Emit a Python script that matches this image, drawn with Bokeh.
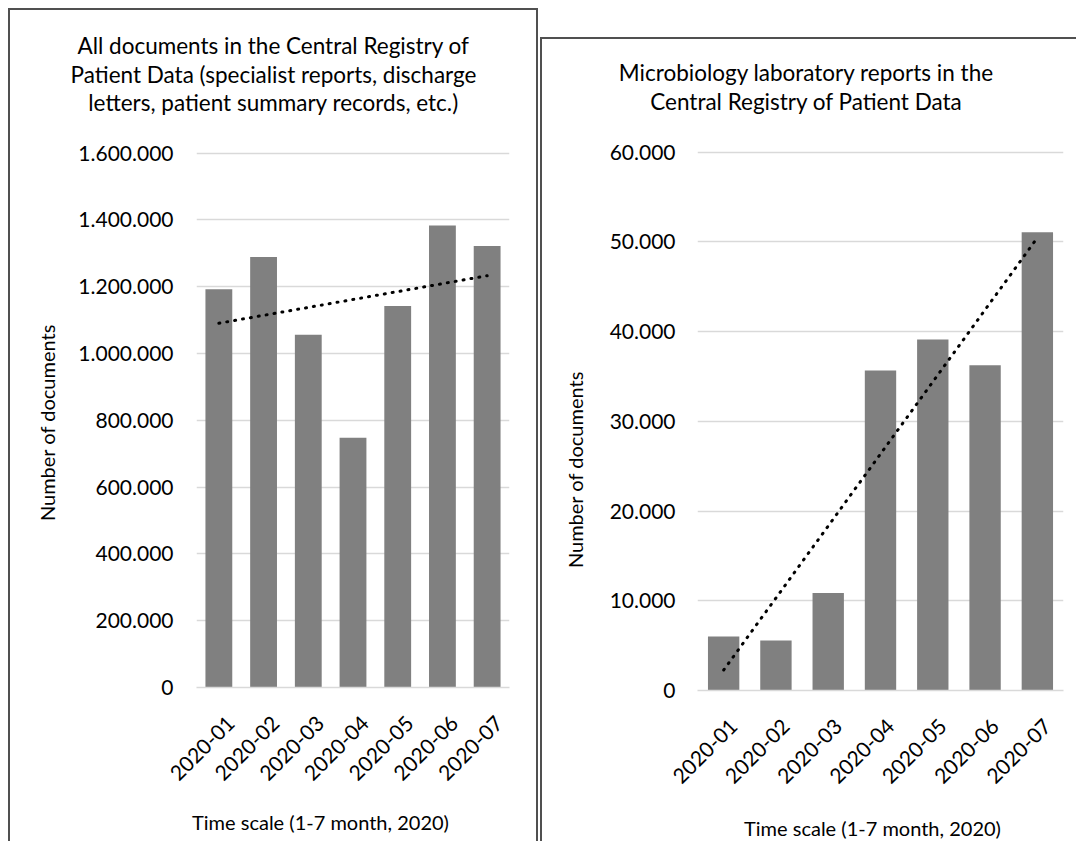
import math
import numpy as np
from bokeh.plotting import figure
from bokeh.models import Label, FixedTicker, Range1d, Spacer, LinearAxis
from bokeh.layouts import row, column
from bokeh.embed import file_html
from bokeh.resources import INLINE

# ---------------- data ----------------
months = ["2020-01", "2020-02", "2020-03", "2020-04", "2020-05", "2020-06", "2020-07"]
all_documents = [1192000, 1289000, 1056000, 748000, 1142000, 1383000, 1322000]
microbiology_reports = [6030, 5560, 10860, 35670, 39110, 36260, 51080]

left_y_ticks = [0, 200000, 400000, 600000, 800000, 1000000, 1200000, 1400000, 1600000]
left_y_tick_labels = ["0", "200.000", "400.000", "600.000", "800.000",
                      "1.000.000", "1.200.000", "1.400.000", "1.600.000"]
right_y_ticks = [0, 10000, 20000, 30000, 40000, 50000, 60000]
right_y_tick_labels = ["0", "10.000", "20.000", "30.000", "40.000", "50.000", "60.000"]

left_title_lines = ["All documents in the Central Registry of",
                    "Patient Data (specialist reports, discharge",
                    "letters, patient summary records, etc.)"]
right_title_lines = ["Microbiology laboratory reports in the",
                     "Central Registry of Patient Data"]
y_axis_title = "Number of documents"
x_axis_title = "Time scale (1-7 month, 2020)"

# ---------------- style ----------------
FONT = "Lato"
BAR = "#808080"
GRID = "#d9d9d9"
EDGE = "#505050"


def make_panel(values, ticks, tick_labels, title_lines, width, height, borders,
               title_xy, ytitle_xy, xtitle_xy, styles, y_standoff,
               x_standoff, label_shift_px):
    bl, br, bt, bb = borders
    n = len(months)
    pos = [i + 1 for i in range(n)]
    p = figure(width=width, height=height,
               x_range=Range1d(0.5, n + 0.5), y_range=Range1d(0, ticks[-1] * 1.003),
               output_backend="svg", toolbar_location=None,
               min_border_left=bl, min_border_right=br,
               min_border_top=bt, min_border_bottom=bb,
               border_fill_color=None, background_fill_color=None,
               outline_line_color=None, x_axis_location=None)
    p.styles = styles

    p.vbar(x=pos, top=values, width=0.6, fill_color=BAR, line_color=None)

    xs = np.array(pos, dtype=float)
    slope, intercept = np.polyfit(xs, np.array(values, dtype=float), 1)
    p.line(x=[xs[0], xs[-1]],
           y=[slope * xs[0] + intercept, slope * xs[-1] + intercept],
           line_color="black", line_width=3, line_dash="1 7", line_cap="round")

    p.xgrid.grid_line_color = None
    p.ygrid.ticker = FixedTicker(ticks=ticks)
    p.ygrid.grid_line_color = GRID
    p.ygrid.grid_line_width = 1.3

    ya = p.yaxis[0]
    ya.ticker = FixedTicker(ticks=ticks)
    ya.major_label_overrides = {t: lab for t, lab in zip(ticks, tick_labels)}
    ya.axis_line_color = None
    ya.major_tick_line_color = None
    ya.minor_tick_line_color = None
    ya.major_tick_out = 0
    ya.major_tick_in = 0
    ya.major_label_standoff = y_standoff
    ya.major_label_text_font = FONT
    ya.major_label_text_font_size = "21px"
    ya.major_label_text_color = "black"

    # month axis: same scale, shifted a few pixels so the rotated labels end at the bars
    shift = label_shift_px * n / (width - bl - br)
    p.extra_x_ranges = {"months": Range1d(0.5 - shift, n + 0.5 - shift)}
    xa = LinearAxis(x_range_name="months", ticker=FixedTicker(ticks=pos),
                    major_label_overrides={i: m for i, m in zip(pos, months)})
    xa.axis_line_color = GRID
    xa.axis_line_width = 1.3
    xa.major_tick_line_color = None
    xa.minor_tick_line_color = None
    xa.major_tick_out = 0
    xa.major_tick_in = 0
    xa.major_label_orientation = math.pi / 4
    xa.major_label_standoff = x_standoff
    xa.major_label_text_font = FONT
    xa.major_label_text_font_size = "21px"
    xa.major_label_text_color = "black"
    p.add_layout(xa, "below")

    tx, ty, dy = title_xy
    for i, line in enumerate(title_lines):
        p.add_layout(Label(x=tx, y=ty + i * dy, x_units="canvas", y_units="canvas",
                           text=line, text_align="center", text_baseline="middle",
                           text_font=FONT, text_font_size="22.5px", text_color="black"),
                     "above")
    p.add_layout(Label(x=ytitle_xy[0], y=ytitle_xy[1], x_units="canvas", y_units="canvas",
                       text=y_axis_title, angle=math.pi / 2,
                       text_align="center", text_baseline="middle",
                       text_font=FONT, text_font_size="20px", text_color="black"),
                 "left")
    p.add_layout(Label(x=xtitle_xy[0], y=xtitle_xy[1], x_units="canvas", y_units="canvas",
                       text=x_axis_title, text_align="center", text_baseline="middle",
                       text_font=FONT, text_font_size="20px", text_color="black"),
                 "below")
    return p


left = make_panel(all_documents, left_y_ticks, left_y_tick_labels, left_title_lines,
                  530, 833, (188, 29, 143, 154),
                  (265, 37, 28.5), (38, 414), (312, 813),
                  {"box-shadow": f"inset 2px 2px 0 0 {EDGE}, inset -2px 0 0 0 {EDGE}"},
                  23, 32, 12)

right = make_panel(microbiology_reports, right_y_ticks, right_y_tick_labels, right_title_lines,
                   536, 804, (157, 13, 113, 151),
                   (266, 35, 28.5), (34, 432), (332, 790),
                   {"box-shadow": f"inset 2px 0 0 0 {EDGE}, inset 0 2px 0 0 {EDGE}"},
                   22, 32, 10)

layout = column(Spacer(width=1076, height=8),
                row(Spacer(width=8, height=833), left, Spacer(width=2, height=833),
                    column(Spacer(width=536, height=29), right)))

open("out.html", "w").write(file_html(layout, INLINE))
